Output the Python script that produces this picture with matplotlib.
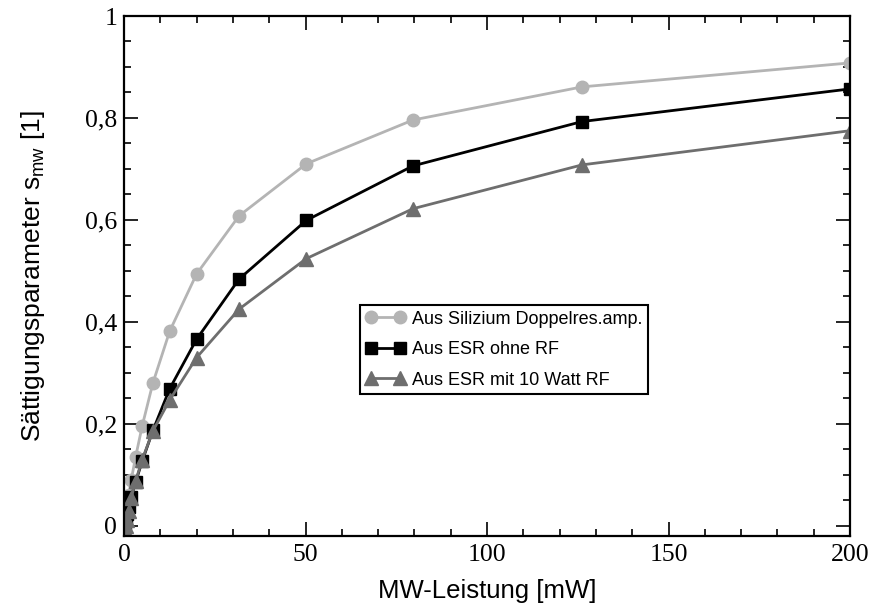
import matplotlib
matplotlib.use('Agg')
import matplotlib.pyplot as plt
from matplotlib.ticker import MultipleLocator, FuncFormatter

# MW-Leistung in mW (Abschwaecher in 2 dB Schritten)
power = [200, 126.2, 79.6, 50.2, 31.7, 20.0, 12.6, 7.96, 5.02, 3.17, 2.0, 1.26, 0.796, 0.502, 0.317, 0.2, 0.126, 0.08]
s_silizium = [0.908, 0.861, 0.796, 0.710, 0.608, 0.494, 0.382, 0.280, 0.196, 0.134, 0.090, 0.060, 0.040, 0.026, 0.017, 0.011, 0.007, 0.004]
s_esr_ohne = [0.857, 0.793, 0.706, 0.599, 0.484, 0.366, 0.269, 0.187, 0.127, 0.085, 0.056, 0.036, 0.023, 0.015, 0.009, 0.006, 0.004, 0.002]
s_esr_mit = [0.775, 0.708, 0.622, 0.524, 0.425, 0.330, 0.247, 0.186, 0.130, 0.087, 0.055, 0.030, 0.012, 0.000, -0.008, -0.012, -0.016, -0.018]

labels = ['Aus Silizium Doppelres.amp.', 'Aus ESR ohne RF', 'Aus ESR mit 10 Watt RF']

plt.rcParams['mathtext.default'] = 'regular'

fig = plt.figure(figsize=(8.72, 6.04), dpi=100)
ax = fig.add_axes([0.1422, 0.1126, 0.8326, 0.8609])

ax.plot(power, s_silizium, color='#b4b4b4', lw=2, marker='o', ms=9, label=labels[0])
ax.plot(power, s_esr_ohne, color='black', lw=2, marker='s', ms=8, label=labels[1])
ax.plot(power, s_esr_mit, color='#6e6e6e', lw=2, marker='^', ms=9.5, label=labels[2])

ax.set_xlim(0, 200)
ax.set_ylim(-0.02, 1)

ax.xaxis.set_major_locator(MultipleLocator(50))
ax.xaxis.set_minor_locator(MultipleLocator(10))
ax.yaxis.set_major_locator(MultipleLocator(0.2))
ax.yaxis.set_minor_locator(MultipleLocator(0.05))

def komma(v, pos):
    s = ('%.1f' % v).rstrip('0').rstrip('.')
    return s.replace('.', ',')

ax.yaxis.set_major_formatter(FuncFormatter(komma))

ax.tick_params(which='both', direction='in', top=True, right=True, width=1.2)
ax.tick_params(which='major', length=10)
ax.tick_params(which='minor', length=5)
ax.tick_params(axis='x', which='major', pad=6)
ax.tick_params(axis='y', which='major', pad=5)
for lab in ax.get_xticklabels() + ax.get_yticklabels():
    lab.set_fontfamily('Liberation Serif')
    lab.set_fontsize(18.5)

for sp in ax.spines.values():
    sp.set_linewidth(1.6)

ax.set_xlabel('MW-Leistung [mW]', fontfamily='Liberation Sans', fontsize=18.5, labelpad=9)
ax.set_ylabel('Sättigungsparameter s$_{mw}$ [1]', fontfamily='Liberation Sans', fontsize=19, labelpad=27)

leg = ax.legend(loc='lower left', bbox_to_anchor=(0.325, 0.273), frameon=True, fancybox=False,
                edgecolor='black', framealpha=1, borderaxespad=0, numpoints=2,
                prop={'family': 'Liberation Sans', 'size': 13},
                handlelength=2.2, labelspacing=0.75, handletextpad=0.4, borderpad=0.3)
leg.get_frame().set_linewidth(1.5)

plt.savefig('out.png', dpi=100)
